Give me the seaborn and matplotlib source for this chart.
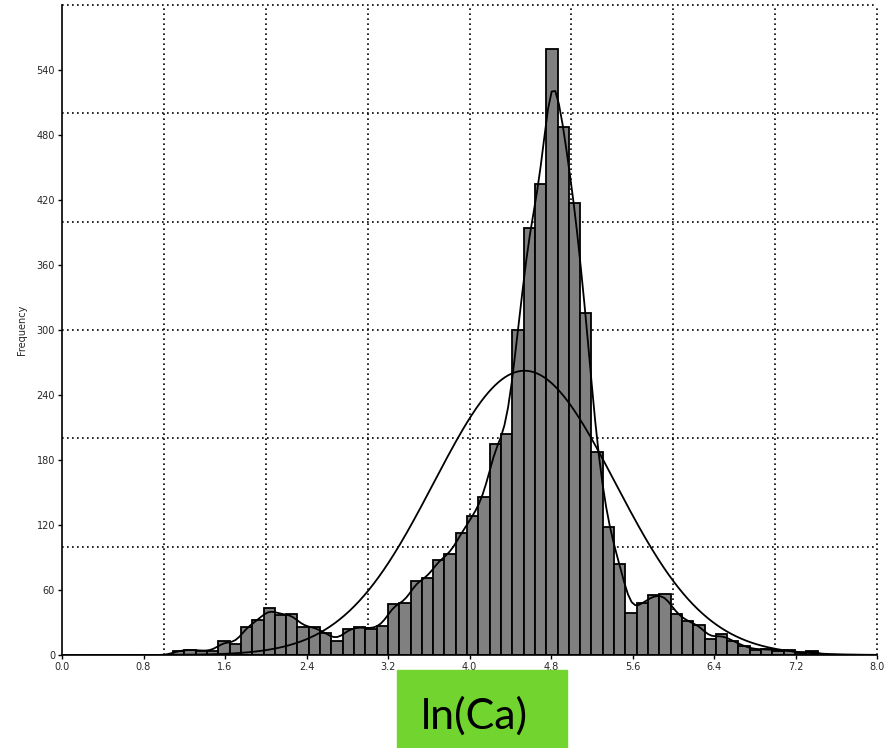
import numpy as np
import pandas as pd
import matplotlib
matplotlib.use("Agg")
import matplotlib.pyplot as plt
from matplotlib.ticker import FormatStrFormatter
from matplotlib.patches import Rectangle
import seaborn as sns

# ---- data ----
BIN_START = 1.09
BIN_WIDTH = 0.111
counts = [4, 5, 4, 3.5, 13, 10, 26, 32, 43, 37, 38, 26, 26, 20, 13, 24, 26, 24, 27,
          47, 48, 68, 71, 88, 93, 113, 128, 146, 195, 204, 300, 394, 435, 559, 487,
          417, 316, 187, 118, 84, 39, 48, 55, 56, 38, 31, 28, 15, 19, 13, 8, 5, 5.5,
          4, 4.5, 1.5, 4]
NORMAL_MEAN = 4.54
NORMAL_SD = 0.89
x_ticks = [0.0, 0.8, 1.6, 2.4, 3.2, 4.0, 4.8, 5.6, 6.4, 7.2, 8.0]
y_ticks = [0, 60, 120, 180, 240, 300, 360, 420, 480, 540]
x_grid = [1, 2, 3, 4, 5, 6, 7, 8]
y_grid = [100, 200, 300, 400, 500, 600]
x_label = "ln(Ca)"
y_label = "Frequency"

counts = np.array(counts, dtype=float)
edges = BIN_START + BIN_WIDTH * np.arange(len(counts) + 1)
centers = (edges[:-1] + edges[1:]) / 2
df = pd.DataFrame({"x": centers, "w": counts})

sns.set_style("white")
plt.rcParams["font.family"] = ["DejaVu Sans"]

fig = plt.figure(figsize=(8.94, 7.48), dpi=100)
ax = fig.add_axes([62 / 894, 1 - 655 / 748, (877 - 62) / 894, (655 - 5) / 748])

sns.histplot(data=df, x="x", weights="w", bins=edges.tolist(), kde=True,
             color="#808080", edgecolor="black", linewidth=1.3, alpha=1,
             kde_kws=dict(bw_method=0.08, cut=3), ax=ax, zorder=2)
for ln in ax.lines:
    ln.set_color("black")
    ln.set_linewidth(1.3)
    ln.set_zorder(3)

# fitted normal curve
xs = np.linspace(0, 8, 500)
area = counts.sum() * BIN_WIDTH
ys = area / (NORMAL_SD * np.sqrt(2 * np.pi)) * np.exp(-0.5 * ((xs - NORMAL_MEAN) / NORMAL_SD) ** 2)
sns.lineplot(x=xs, y=ys, color="black", linewidth=1.3, ax=ax, zorder=3)

ax.set_xlim(0, 8)
ax.set_ylim(0, 600)
ax.set_xticks(x_ticks)
ax.set_yticks(y_ticks)
ax.xaxis.set_major_formatter(FormatStrFormatter("%.1f"))
ax.grid(False)
dot = (0, (1, 2))
for gx in x_grid:
    ax.axvline(gx, color="black", linestyle=dot, linewidth=1.2, zorder=0, clip_on=False)
for gy in y_grid:
    ax.axhline(gy, color="black", linestyle=dot, linewidth=1.2, zorder=0, clip_on=False)
ax.tick_params(which="major", direction="out", length=3, width=1,
               labelsize=7, pad=2, left=True, bottom=True, color="black")
for s in ["top", "right"]:
    ax.spines[s].set_visible(False)
for s in ["left", "bottom"]:
    ax.spines[s].set_color("black")
    ax.spines[s].set_linewidth(1.2)
ax.set_xlabel("")
ax.set_ylabel(y_label, fontsize=7)
ax.yaxis.set_label_coords(-0.043, 0.5)

# green label box
fig.patches.append(Rectangle((397 / 894, 0), 170 / 894, 78 / 748,
                             transform=fig.transFigure, color="#72D42F", zorder=0))
fig.text(474 / 894, (748 - 716) / 748, x_label, ha="center", va="center",
         fontsize=31, family=["Lato", "DejaVu Sans"], color="black")

fig.savefig("out.png", dpi=100)
